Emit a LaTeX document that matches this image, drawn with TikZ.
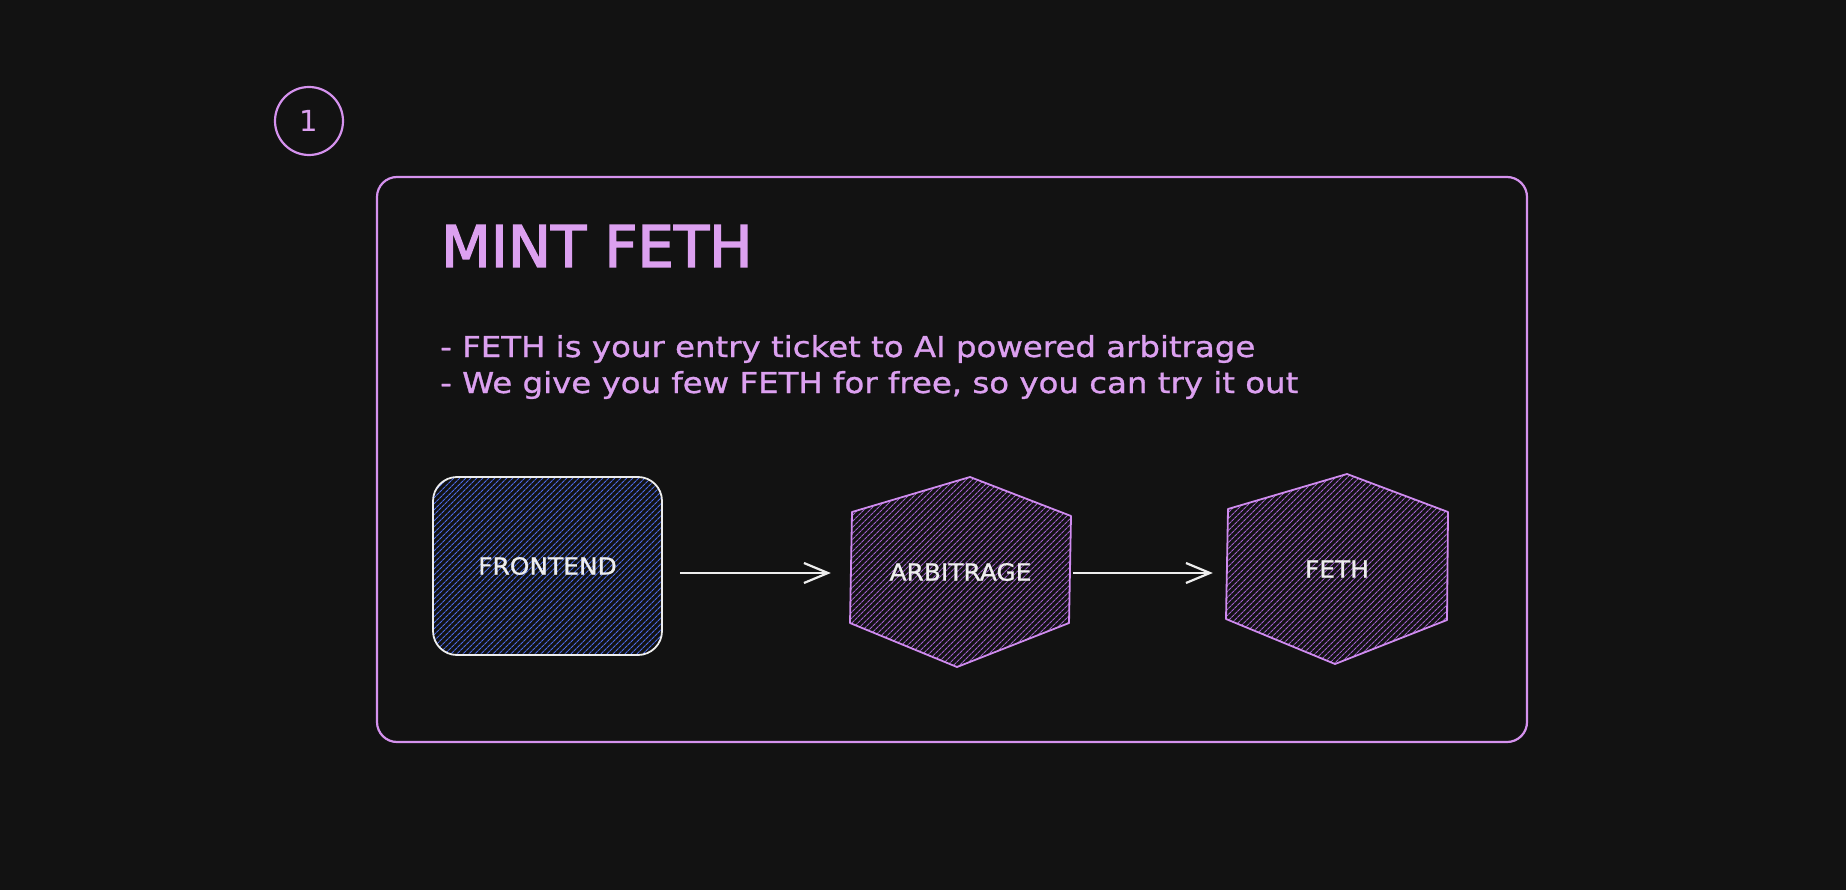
\documentclass[tikz,border=0pt]{standalone}
\usepackage{fontspec}
\setmainfont{DejaVu Sans}
\newfontfamily\titlefont[FakeBold=2.5]{DejaVu Sans}
\newfontfamily\bodyfont[FakeStretch=1.125, FakeBold=1]{DejaVu Sans}
\newfontfamily\labelfont[FakeStretch=1.06, FakeBold=1]{DejaVu Sans}
\usetikzlibrary{arrows.meta,patterns.meta}
\definecolor{bgc}{HTML}{121212}
\definecolor{lav}{HTML}{DCA0F0}
\definecolor{lavline}{HTML}{D592EE}
\definecolor{hexline}{HTML}{CF8BEF}
\definecolor{hexhatch}{HTML}{A060CC}
\definecolor{bluehatch}{HTML}{4C6AE6}
\definecolor{whitish}{HTML}{EDEDED}
\tikzset{
  framebox/.style={draw=lavline, line width=2.2pt, rounded corners=20pt, minimum width=1150pt, minimum height=565pt, inner sep=0pt},
  numcircle/.style={circle, draw=lavline, line width=2.2pt, minimum size=68pt, inner sep=0pt, text=lav, font=\fontsize{29}{30}\selectfont},
  titletext/.style={anchor=base west, inner sep=0pt, text=lav, font=\titlefont\fontsize{57.6}{60}\selectfont},
  bodytext/.style={anchor=base west, inner sep=0pt, text=lav, font=\bodyfont\fontsize{28.8}{30}\selectfont},
  frontbox/.style={draw=whitish, line width=1.8pt, rounded corners=24pt, minimum width=229pt, minimum height=178pt, inner sep=0pt,
    pattern={Lines[angle=45, distance=4pt, line width=1.2pt]}, pattern color=bluehatch,
    text=whitish, font=\labelfont\fontsize{23.5}{25}\selectfont},
  hexlabel/.style={inner sep=0pt, text=whitish, font=\labelfont\fontsize{23.5}{25}\selectfont},
  hexshape/.style={draw=hexline, line width=1.8pt, line join=round,
    pattern={Lines[angle=45, distance=4pt, line width=1.2pt]}, pattern color=hexhatch},
  flowarrow/.style={draw=whitish, line width=2.2pt, -{Straight Barb[length=24pt, width=20pt, line width=2.2pt]}},
}
\begin{document}
\begin{tikzpicture}[x=1pt, y=-1pt]
  \fill[bgc] (0,0) rectangle (1846,890);
  \useasboundingbox (0,0) rectangle (1846,890);

  % step number
  \node[numcircle] (num) at (309,121) {1};

  % outer frame
  \node[framebox] (frame) at (952,459.5) {};

  % texts
  \node[titletext] (title) at (441,267) {MINT FETH};
  \node[bodytext] (line1) at (440,357) {- FETH is your entry ticket to AI powered arbitrage};
  \node[bodytext] (line2) at (440,393) {- We give you few FETH for free, so you can try it out};

  % hexagon outlines (hand-drawn irregular hexagons)
  \coordinate (a1) at (970,477);
  \coordinate (a2) at (1071,516);
  \coordinate (a3) at (1069,623);
  \coordinate (a4) at (957,667);
  \coordinate (a5) at (850,623);
  \coordinate (a6) at (852,512);
  \path[hexshape] (a1) -- (a2) -- (a3) -- (a4) -- (a5) -- (a6) -- cycle;

  \coordinate (f1) at (1347,474);
  \coordinate (f2) at (1448,512);
  \coordinate (f3) at (1447,620);
  \coordinate (f4) at (1335,664);
  \coordinate (f5) at (1226,619);
  \coordinate (f6) at (1228,509);
  \path[hexshape] (f1) -- (f2) -- (f3) -- (f4) -- (f5) -- (f6) -- cycle;

  % nodes
  \node[frontbox] (front) at (547.5,566) {FRONTEND};
  \node[hexlabel, minimum width=221pt, minimum height=190pt] (arb) at (960.5,572) {ARBITRAGE};
  \node[hexlabel, minimum width=222pt, minimum height=190pt] (feth) at (1337,569) {FETH};

  % connectors
  \draw[flowarrow, shorten <=17pt, shorten >=19pt] ([yshift=-7pt]front.east) -- ([yshift=-1pt]arb.west);
  \draw[flowarrow, shorten <=2pt, shorten >=13pt] ([yshift=-1pt]arb.east) -- ([yshift=-4pt]feth.west);
\end{tikzpicture}
\end{document}
